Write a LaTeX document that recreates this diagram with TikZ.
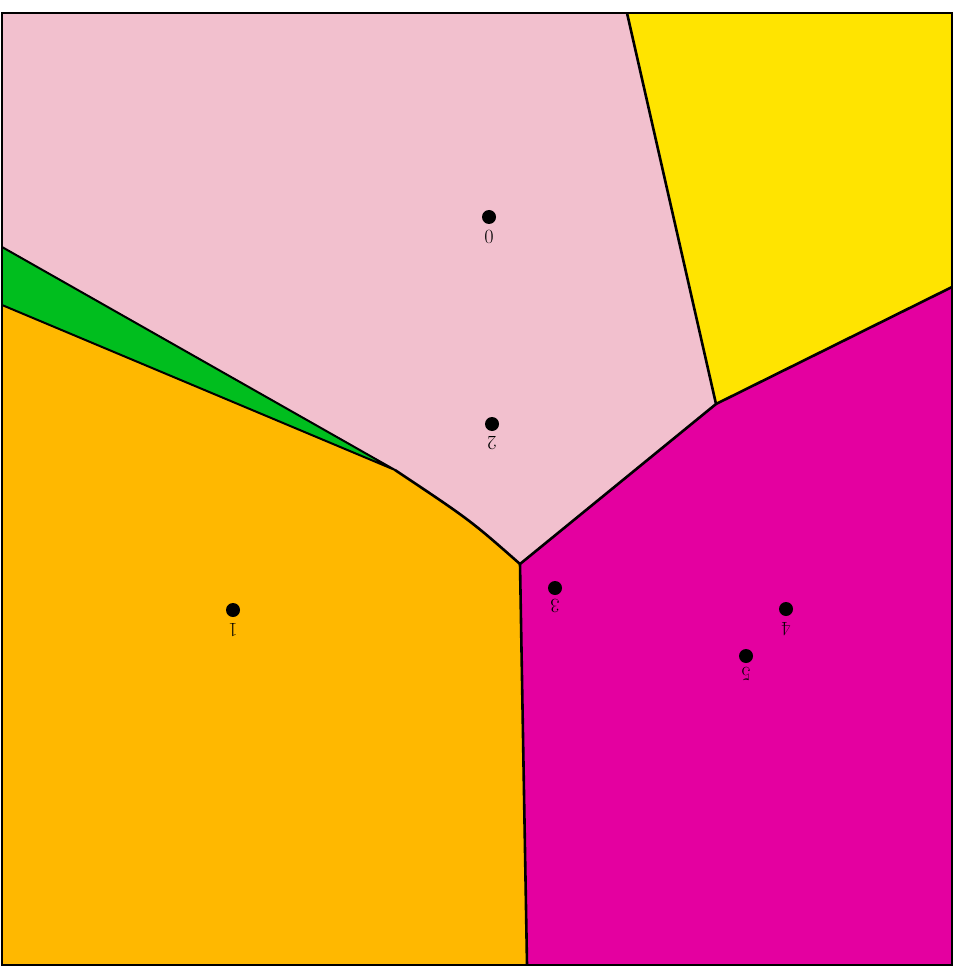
\documentclass[tikz,border=0pt]{standalone}
\begin{document}
\begin{tikzpicture}[x=1pt,y=-1pt,
  edge/.style={draw=black,line width=2.6pt,line join=round},
  site/.style={circle,fill=black,inner sep=0pt,minimum size=14pt},
  tag/.style={rotate=180,inner sep=0pt,font=\fontsize{20}{20}\selectfont}]
\useasboundingbox[fill=white] (0,0) rectangle (964,973);
\definecolor{pinkr}{RGB}{242,192,206}
\definecolor{yelr}{RGB}{255,228,0}
\definecolor{magr}{RGB}{228,0,160}
\definecolor{orar}{RGB}{255,184,0}
\definecolor{grer}{RGB}{0,190,30}
% regions
\fill[pinkr] (2,13) -- (627,13) -- (716,404) -- (520,564) .. controls (470,520) .. (395,470) -- (2,247) -- cycle;
\fill[yelr] (627,13) -- (952,13) -- (952,287) -- (716,404) -- cycle;
\fill[magr] (716,404) -- (952,287) -- (952,965) -- (527,965) -- (520,564) -- cycle;
\fill[orar] (2,305) -- (395,470) .. controls (470,520) .. (520,564) -- (527,965) -- (2,965) -- cycle;
\fill[grer] (2,247) -- (395,470) -- (2,305) -- cycle;
% boundaries
\draw[edge] (627,13) -- (716,404) -- (952,287);
\draw[edge] (716,404) -- (520,564) -- (527,965);
\draw[edge] (520,564) .. controls (470,520) .. (395,470);
\draw[edge,line width=2pt] (2,247) -- (395,470) -- (2,305);
\draw[draw=black,line width=2.4pt] (2,13) rectangle (952,965);
% sites
\node[site] (s0) at (489,217) {};
\node[tag] (t0) at (489,237) {0};
\node[site] (s1) at (233,610) {};
\node[tag] (t1) at (233,630) {1};
\node[site] (s2) at (492,424) {};
\node[tag] (t2) at (492,443) {2};
\node[site] (s3) at (555,588) {};
\node[tag] (t3) at (555,606) {3};
\node[site] (s4) at (786,609) {};
\node[tag] (t4) at (786,629) {4};
\node[site] (s5) at (746,656) {};
\node[tag] (t5) at (746,674) {5};
\end{tikzpicture}
\end{document}
